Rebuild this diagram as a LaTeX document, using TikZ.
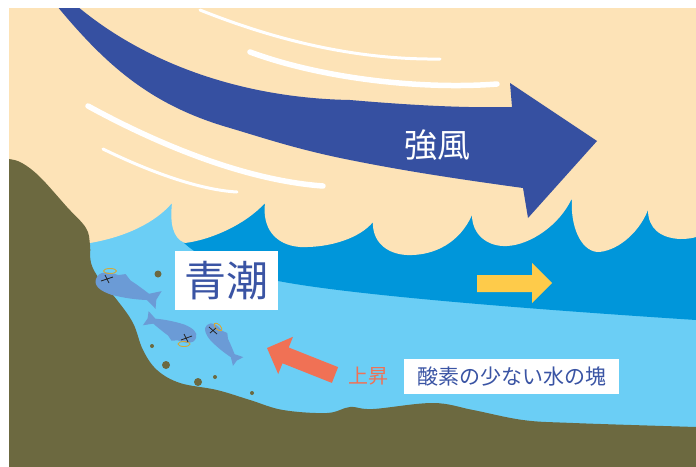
\documentclass[tikz,border=0pt]{standalone}
\usepackage{fontspec}
\newfontfamily\jp{Noto Sans CJK JP}
\usepackage{tikz}

\definecolor{skybeige}{HTML}{FDE3B7}
\definecolor{deepsea}{HTML}{0096DA}
\definecolor{shallowsea}{HTML}{6BCEF5}
\definecolor{mudland}{HTML}{6C6940}
\definecolor{windblue}{HTML}{3650A1}
\definecolor{textblue}{HTML}{3A54A4}
\definecolor{upcoral}{HTML}{F07155}
\definecolor{flowyellow}{HTML}{FECB4A}
\definecolor{fishblue}{HTML}{6B9BD6}
\definecolor{halogold}{HTML}{D2A93C}

\tikzstyle{sky} = [fill=skybeige]
\tikzstyle{seadeep} = [fill=deepsea]
\tikzstyle{seashallow} = [fill=shallowsea]
\tikzstyle{land} = [fill=mudland]
\tikzstyle{wind} = [fill=windblue]
\tikzstyle{streak} = [draw=white, line width=5.5pt, line cap=round]
\tikzstyle{thinstreak} = [draw=white, line width=3pt, line cap=round]
\tikzstyle{halo} = [draw=halogold, line width=0.9pt]
\tikzstyle{deadeye} = [draw=black!85, line width=0.8pt]
\tikzstyle{labelbox} = [fill=white, inner sep=0pt, text=textblue]

\tikzset{
	fishbody/.pic={
		\fill[fishblue] (0,0) .. controls (0,-8) and (8,-10) .. (18,-10) -- (24,-13) -- (30,-9)
			.. controls (38,-7) and (44,-5) .. (50,-3) -- (60,-9) -- (58,0) -- (60,8) -- (50,3)
			.. controls (40,6) and (30,8) .. (18,9) .. controls (8,9) and (0,7) .. (0,0) -- cycle;
	}
}

\begin{document}
\begin{tikzpicture}[x=1pt, y=-1pt]
	\useasboundingbox (0,0) rectangle (696,466);
	\fill[white] (0,0) rectangle (696,466);
	\begin{scope}
		\clip (9,8) rectangle (696,466);
		% water layers
		\fill[seashallow] (0,0) rectangle (700,470);
		\fill[seadeep] (184,200) -- (184,243) .. controls (205,262) and (240,276) .. (278,281)
			.. controls (330,291) and (450,304) .. (696,320) -- (700,320) -- (700,200) -- cycle;
		% sky with the wave crests
		\fill[sky] (0,250) -- (90,243) .. controls (125,237) and (155,223) .. (172,203)
			.. controls (170,222) and (172,238) .. (185,243) .. controls (210,240) and (245,225) .. (265,203)
			.. controls (262,228) and (275,245) .. (300,247) .. controls (330,248) and (360,238) .. (373,222)
			.. controls (372,240) and (385,254) .. (407,255) .. controls (435,256) and (460,242) .. (472,215)
			.. controls (472,235) and (488,247) .. (507,246) .. controls (530,245) and (560,225) .. (572,198)
			.. controls (570,225) and (580,250) .. (597,252) .. controls (615,252) and (638,235) .. (648,210)
			.. controls (648,228) and (660,238) .. (680,239) .. controls (688,239) and (693,238) .. (696,237)
			-- (700,237) -- (700,0) -- (0,0) -- cycle;
		% wind lines
		\draw[thinstreak] (200,10) .. controls (280,42) and (360,60) .. (440,59);
		\draw[streak] (250,52) .. controls (320,78) and (420,90) .. (497,84);
		\draw[streak] (88,106) .. controls (150,140) and (240,180) .. (323,186);
		\draw[thinstreak] (103,149) .. controls (150,172) and (200,190) .. (237,192);
		% big wind arrow
		\fill[wind] (70,0) .. controls (140,62) and (240,98) .. (350,100)
			.. controls (420,106) and (470,108) .. (512,107) -- (510,83) -- (597,141) -- (528,218) -- (523,188)
			.. controls (450,178) and (400,170) .. (350,160) .. controls (300,150) and (270,140) .. (230,128)
			.. controls (150,105) and (105,65) .. (52,0) -- cycle;
		% sea floor and shore
		\fill[land] plot[smooth, tension=0.6] coordinates {(0,159) (9,159) (22,163) (40,177) (67,207) (86,228)
			(90,245) (91,263) (100,280) (117,300) (133,323) (143,350) (157,370) (180,383) (217,390)
			(250,400) (283,410) (327,413) (350,407) (373,409) (433,403) (473,410) (523,420) (573,423) (696,427) (700,427)}
			-- (700,470) -- (0,470) -- cycle;
		% surface flow
		\fill[flowyellow] (477,275) -- (532,275) -- (532,263) -- (552,283) -- (532,303) -- (532,292) -- (477,292) -- cycle;
		% upwelling
		\fill[upcoral] (267,348) -- (293,336.8) -- (288.7,347.5) -- (338.1,367.1) -- (331.9,382.9)
			-- (282.5,363.3) -- (278.2,374) -- cycle;
		% mud particles
		\foreach \px/\py/\r in {158/274/3.5, 152/346/2, 166/365/4, 198/382/4, 215/377/2, 252/393/2}
			\fill[mudland] (\px,\py) circle (\r);
		% dead fish
		\pic[rotate=-19, scale=1.1] at (96,279) {fishbody};
		\pic[rotate=158, scale=0.9] at (196,338) {fishbody};
		\pic[rotate=-50, scale=0.8] at (207,325) {fishbody};
		\draw[halo] (110,271) ellipse [x radius=6.5, y radius=2.5];
		\draw[halo] (184,344) ellipse [x radius=6, y radius=2.5];
		\draw[halo, rotate around={-45:(218,327)}] (218,327) ellipse [x radius=5, y radius=2.5];
		\draw[deadeye] (101,281) -- (113,277) (105,275) -- (109,283);
		\draw[deadeye] (181,340) -- (192,336) (184,334) -- (188,342);
		\draw[deadeye] (209,327) -- (217,334) (210,333) -- (216,328);
	\end{scope}
	% labels
	\node[text=white, font=\jp\fontsize{33}{36}\selectfont] (kyofu) at (437,145) {強風};
	\node[labelbox, minimum width=103pt, minimum height=59pt, font=\jp\fontsize{42}{46}\selectfont] (aoshio) at (226.5,280.5) {青潮};
	\node[text=upcoral, font=\jp\fontsize{20}{22}\selectfont] (josho) at (368,376) {上昇};
	\node[labelbox, minimum width=215pt, minimum height=35pt, font=\jp\fontsize{21}{23}\selectfont] (hinsanso) at (511.5,376.5) {酸素の少ない水の塊};
\end{tikzpicture}
\end{document}
